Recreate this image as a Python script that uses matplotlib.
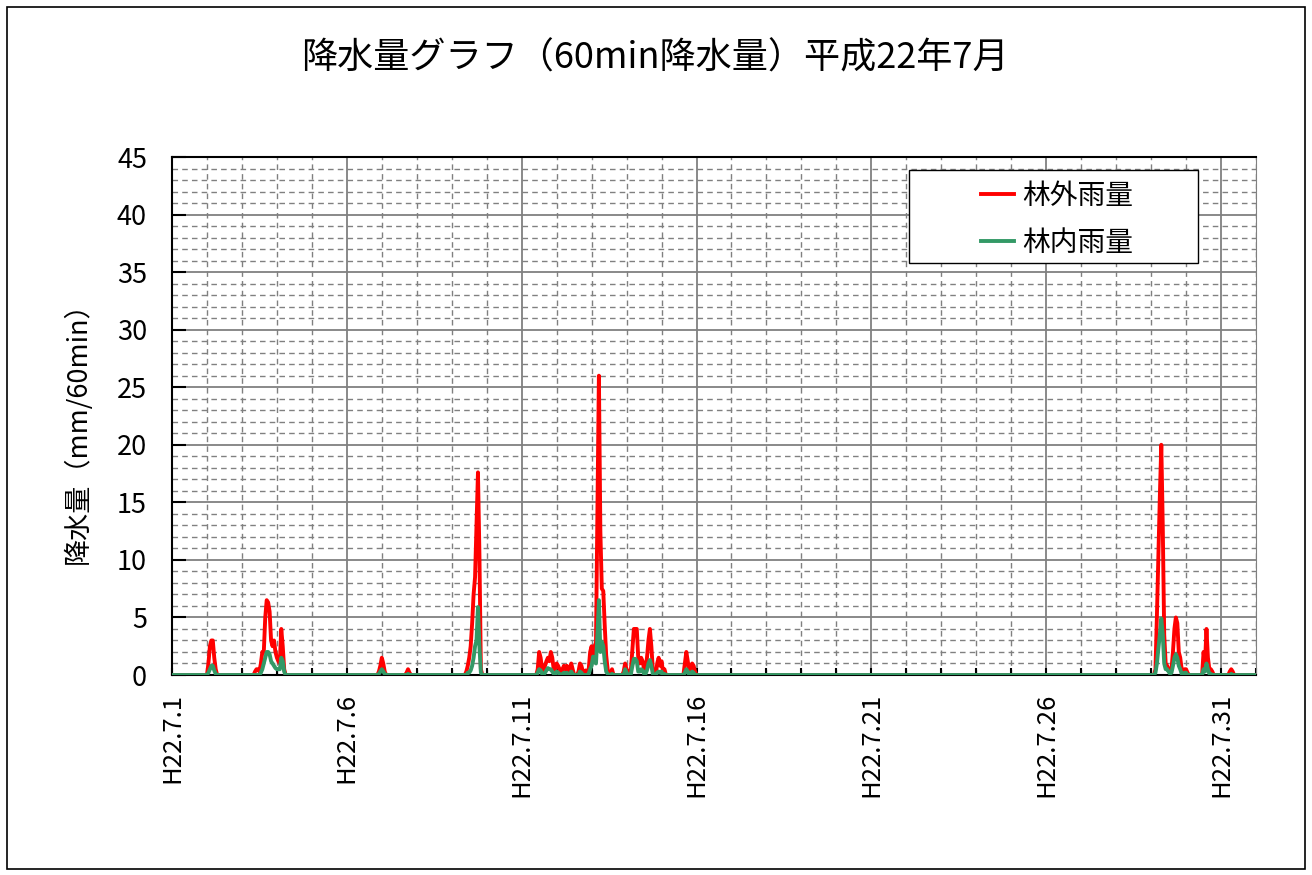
import numpy as np
import matplotlib
matplotlib.use("Agg")
import matplotlib.pyplot as plt
from matplotlib.ticker import MultipleLocator
from matplotlib.patches import Rectangle

plt.rcParams['font.family'] = ['Noto Sans CJK JP', 'DejaVu Sans']

# hourly rainfall, July 2010 (H22.7), hour 0 = 7/1 0:00
n_hours = 31 * 24
x_labels = ['H22.7.1', 'H22.7.6', 'H22.7.11', 'H22.7.16', 'H22.7.21', 'H22.7.26', 'H22.7.31']

# rain events: start hour, outside (林外) and inside (林内) values per hour
start_0702 = 25
out_0702 = [1.0, 2.5, 3.0, 3.0, 1.5, 0.5]
in_0702 = [0.2, 0.5, 0.8, 0.8, 0.4, 0.1]

start_0703 = 57
out_0703 = [0.3, 0.5, 0.5, 0.3, 1.0, 2.0, 2.0, 5.0, 6.5, 6.3, 5.5, 3.0, 2.5, 3.0, 2.0, 1.5, 1.2, 1.0, 4.0, 2.5, 0.5]
in_0703 = [0, 0, 0, 0, 0.2, 0.5, 1.0, 1.5, 2.0, 2.0, 1.8, 1.2, 1.0, 0.8, 0.6, 0.5, 0.5, 0.5, 1.5, 1.2, 0.3]

start_0706 = 142
out_0706 = [0.3, 0.8, 1.5, 1.0, 0.3]
in_0706 = [0.1, 0.3, 0.5, 0.3, 0.1]

start_0707 = 161
out_0707 = [0.2, 0.5, 0.2]
in_0707 = [0, 0.1, 0]

start_0709 = 202
out_0709 = [0.3, 0.8, 1.5, 2.5, 4.5, 7.0, 8.5, 13.0, 17.6, 10.5, 0.5]
in_0709 = [0, 0.2, 0.2, 0.4, 0.8, 1.5, 2.5, 3.0, 5.9, 2.5, 0.2]

start_0711 = 251
out_0711 = [0.5, 2.0, 1.5, 0.5, 0.3, 0.8, 1.2, 1.5, 1.2, 2.0, 1.5, 0.5, 0.5, 1.0, 0.8, 0.5,
            0.3, 0.5, 0.8, 0.5, 0.8, 0.3, 0.5, 1.0, 0.5, 0, 0, 0, 0.3, 1.0, 0.8, 0.3,
            0, 0.4, 0, 0.5, 2.0, 2.5, 1.5, 2.5, 2.8, 14.5, 26.0, 12.5, 7.5, 7.3, 4.3, 1.7,
            0.5, 0, 0, 0.5]
in_0711 = [0.2, 0.5, 0.4, 0.1, 0, 0.2, 0.4, 0.6, 0.5, 0.5, 0.3, 0.1, 0.1, 0.3, 0.2, 0.1,
           0, 0.1, 0.2, 0.1, 0.2, 0, 0.1, 0.3, 0.1, 0, 0, 0, 0, 0.3, 0.2, 0,
           0, 0, 0, 0.1, 0.5, 0.8, 1.6, 1.2, 1.0, 3.5, 6.5, 2.0, 2.9, 2.5, 1.2, 0.3,
           0.1, 0, 0, 0.1]

start_0713 = 310
out_0713 = [0.3, 1.0, 0.5, 0.3, 0, 0.5, 2.2, 4.0, 4.0, 4.0, 1.5, 1.0, 1.5, 1.2, 0.5,
            0.5, 1.5, 3.0, 4.0, 2.5, 0.5, 0, 0, 1.0, 1.5, 0.8, 1.2, 0.3, 0.5]
in_0713 = [0, 0.5, 0.2, 0, 0, 0.1, 0.8, 1.4, 1.4, 1.2, 0.3, 0.3, 0.5, 0.4, 0.1,
           0.1, 0.4, 1.0, 1.3, 0.8, 0.1, 0, 0, 0.2, 0.3, 0.2, 0.3, 0, 0.1]

start_0715 = 352
out_0715 = [1.0, 2.0, 1.2, 0.3, 0.5, 1.0, 0.8, 0.3]
in_0715 = [0.2, 0.5, 0.3, 0, 0.1, 0.3, 0.2, 0]

start_0729 = 675
out_0729 = [0.5, 5.2, 10.4, 15.5, 20.0, 13.0, 3.5, 1.0, 0.8, 0.5, 0.3, 0.5, 2.0, 4.0,
            5.0, 4.5, 2.0, 1.5, 0.5, 0.3, 0.5, 0.5, 0.2]
in_0729 = [0.2, 1.0, 2.3, 3.5, 4.9, 3.5, 1.0, 0.5, 0.5, 0.3, 0.1, 0.2, 0.8, 1.5,
           1.8, 1.5, 0.8, 0.5, 0.1, 0.1, 0.2, 0.2, 0]

start_0730 = 708
out_0730 = [2.0, 1.0, 4.0, 1.5, 0.5, 0.5, 0.3]
in_0730 = [0.5, 0.3, 1.0, 0.5, 0.1, 0.1, 0]

start_0731 = 726
out_0731 = [0.3, 0.5, 0.3]
in_0731 = [0, 0.1, 0]

events = [
    (start_0702, out_0702, in_0702), (start_0703, out_0703, in_0703),
    (start_0706, out_0706, in_0706), (start_0707, out_0707, in_0707),
    (start_0709, out_0709, in_0709), (start_0711, out_0711, in_0711),
    (start_0713, out_0713, in_0713), (start_0715, out_0715, in_0715),
    (start_0729, out_0729, in_0729), (start_0730, out_0730, in_0730),
    (start_0731, out_0731, in_0731),
]

rain_out = np.zeros(n_hours)
rain_in = np.zeros(n_hours)
for s, o, i in events:
    rain_out[s:s + len(o)] = o
    rain_in[s:s + len(i)] = i
days = np.arange(n_hours) / 24.0

fig = plt.figure(figsize=(13.12, 8.75), dpi=100)
ax = fig.add_axes([172 / 1312, 200 / 875, 1084 / 1312, 518 / 875])

ax.plot(days, rain_out, color='#ff0000', lw=2.8, label='林外雨量', zorder=3)
ax.plot(days, rain_in, color='#339966', lw=2.8, label='林内雨量', zorder=4)

ax.set_xlim(0, 31)
ax.set_ylim(0, 45)
ax.xaxis.set_minor_locator(MultipleLocator(1))
ax.yaxis.set_major_locator(MultipleLocator(5))
ax.yaxis.set_minor_locator(MultipleLocator(1))
ax.set_xticks(np.arange(0, 31, 5))
ax.set_xticklabels(x_labels, rotation=90, va='top', ha='center', fontsize=18.5)

ax.grid(which='major', color='#808080', lw=1.3, ls='-', zorder=0)
ax.grid(which='minor', color='#808080', lw=1.0, ls=(0, (4, 3)), zorder=0)
ax.set_axisbelow(True)

ax.tick_params(axis='y', which='major', direction='in', length=10, width=1.5,
               labelsize=19.5, pad=18, color='black')
ax.tick_params(axis='y', which='minor', length=0)
ax.tick_params(axis='x', which='both', direction='in', length=5, width=1.5,
               pad=13, color='black')

for side in ['left', 'top', 'bottom']:
    ax.spines[side].set_color('black')
    ax.spines[side].set_linewidth(1.5)
ax.spines['right'].set_color('#808080')

fig.text(78 / 1312, 1 - 426 / 875, '降水量（mm/60min）', rotation=90,
         ha='center', va='center', fontsize=19.5)

# legend box drawn separately so the padding matches
ax.add_patch(Rectangle(((909 - 172) / 1084, (675 - 263) / 518), 289 / 1084, 93 / 518,
                       transform=ax.transAxes, facecolor='white', edgecolor='black',
                       lw=1.0, zorder=5))
leg = ax.legend(loc='upper left', bbox_to_anchor=((981 - 172) / 1084, (675 - 181) / 518),
                fontsize=20, frameon=False, handlelength=1.2, handletextpad=0.3,
                borderpad=0, labelspacing=0.6, borderaxespad=0)
leg.set_zorder(6)

fig.text(655 / 1312, 1 - 58 / 875, '降水量グラフ（60min降水量）平成22年7月',
         ha='center', va='center', fontsize=26)

fig.patches.append(Rectangle((7 / 1312, 6 / 875), 1298 / 1312, 862 / 875,
                             transform=fig.transFigure, fill=False,
                             edgecolor='black', lw=1.2))

fig.savefig('out.png', dpi=100)
